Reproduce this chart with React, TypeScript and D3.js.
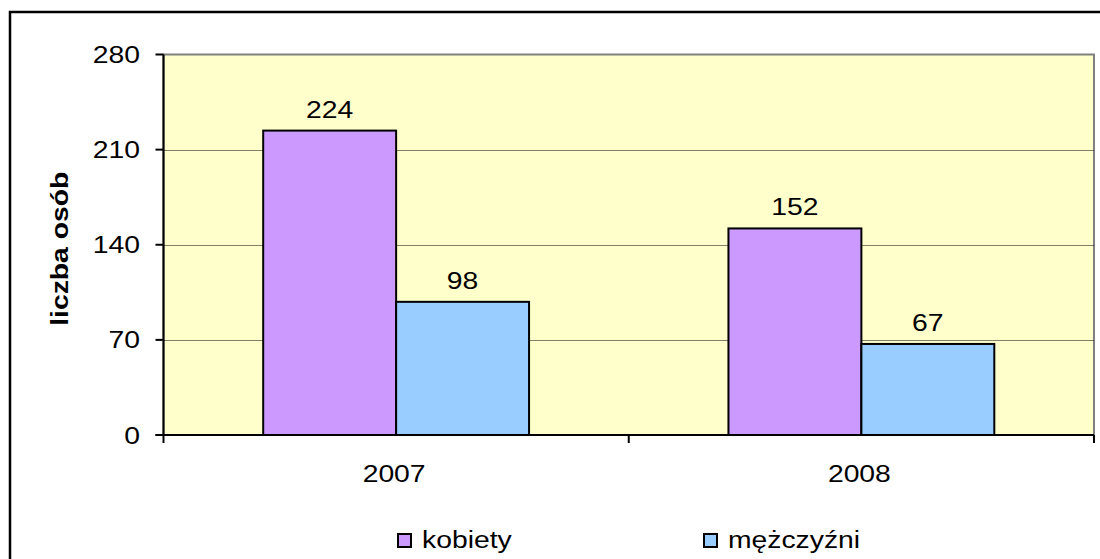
import * as d3 from 'd3';
import { useEffect, useRef } from 'react';

const years = ['2007', '2008'];
const seriesNames = ['kobiety', 'mężczyźni'];
const kobiety = [224, 152];
const mezczyzni = [98, 67];
const yTicks = [0, 70, 140, 210, 280];

const colors = ['#CC99FF', '#99CCFF'];
const FONT = '"Liberation Sans", Arial, sans-serif';
const STRETCH = 1.18; // text in the source is a bit wider than normal

export default function App() {
    const chartRef = useRef<SVGSVGElement | null>(null);

    useEffect(() => {
        if (!chartRef.current) return;
        d3.select(chartRef.current).selectAll('*').remove();

        const svg = d3.select(chartRef.current);
        const width = 1100;
        const height = 559;
        const plot = { left: 163.5, right: 1094, top: 54.5, bottom: 435 };

        const values = [kobiety, mezczyzni];

        const x0 = d3.scaleBand().domain(years).range([plot.left, plot.right]).padding(0);
        const x1 = d3
            .scaleBand()
            .domain(seriesNames)
            .range([0, x0.bandwidth()])
            .paddingInner(0)
            .paddingOuter(0.75); // excel gap width 150%

        const y = d3.scaleLinear().domain([0, 280]).range([plot.bottom, plot.top]);

        const addText = (
            g: d3.Selection<SVGGElement, unknown, null, undefined>,
            txt: string,
            tx: number,
            ty: number,
            anchor: string,
            opts: { rotate?: number; bold?: boolean } = {},
        ) =>
            g
                .append('text')
                .attr(
                    'transform',
                    `translate(${tx},${ty})${opts.rotate ? ` rotate(${opts.rotate})` : ''} scale(${STRETCH},1)`,
                )
                .attr('text-anchor', anchor)
                .attr('font-family', FONT)
                .attr('font-size', 24)
                .attr('font-weight', opts.bold ? 'bold' : 'normal')
                .attr('fill', '#000')
                .text(txt);

        svg.attr('width', width).attr('height', height);

        // outer chart border (runs off the right/bottom of the picture)
        svg.append('rect')
            .attr('x', 10)
            .attr('y', 12)
            .attr('width', 1110)
            .attr('height', 570)
            .attr('fill', '#fff')
            .attr('stroke', '#000')
            .attr('stroke-width', 2.5);

        // plot area
        svg.append('rect')
            .attr('x', plot.left)
            .attr('y', plot.top)
            .attr('width', plot.right - plot.left)
            .attr('height', plot.bottom - plot.top)
            .attr('fill', '#FFFFCC')
            .attr('stroke', '#808080')
            .attr('stroke-width', 2);

        // gridlines (snapped to the pixel grid so the dots stay dark)
        svg.append('g')
            .selectAll('line')
            .data(yTicks.filter((t) => t > 0 && t < 280))
            .join('line')
            .attr('x1', plot.left)
            .attr('x2', plot.right)
            .attr('y1', (d) => Math.round(y(d)) + 0.5)
            .attr('y2', (d) => Math.round(y(d)) + 0.5)
            .attr('stroke', '#000')
            .attr('stroke-width', 1)
            .attr('stroke-dasharray', '1,1');

        // bars
        const bars = svg.append('g');
        seriesNames.forEach((s, si) => {
            bars.append('g')
                .selectAll('rect')
                .data(years.map((yr, i) => ({ yr, v: values[si][i] })))
                .join('rect')
                .attr('x', (d) => x0(d.yr)! + x1(s)!)
                .attr('y', (d) => y(d.v))
                .attr('width', x1.bandwidth())
                .attr('height', (d) => y(0) - y(d.v))
                .attr('fill', colors[si])
                .attr('stroke', '#000')
                .attr('stroke-width', 2);
        });

        // value labels
        const labels = svg.append('g');
        seriesNames.forEach((s, si) => {
            years.forEach((yr, i) => {
                const v = values[si][i];
                addText(labels, String(v), x0(yr)! + x1(s)! + x1.bandwidth() / 2, y(v) - 13, 'middle');
            });
        });

        // y axis
        const yAxis = svg.append('g');
        yAxis.append('line')
            .attr('x1', plot.left)
            .attr('x2', plot.left)
            .attr('y1', plot.top)
            .attr('y2', plot.bottom)
            .attr('stroke', '#000')
            .attr('stroke-width', 2);
        yTicks.forEach((t) => {
            yAxis.append('line')
                .attr('x1', plot.left - 8)
                .attr('x2', plot.left)
                .attr('y1', y(t))
                .attr('y2', y(t))
                .attr('stroke', '#000')
                .attr('stroke-width', 2);
            addText(yAxis, String(t), 140, y(t) + 8.5, 'end');
        });

        // x axis
        const xAxis = svg.append('g');
        xAxis.append('line')
            .attr('x1', plot.left - 8)
            .attr('x2', plot.right)
            .attr('y1', plot.bottom)
            .attr('y2', plot.bottom)
            .attr('stroke', '#000')
            .attr('stroke-width', 2);
        const bounds = [...years.map((yr) => x0(yr)!), plot.right];
        bounds.forEach((bx) => {
            xAxis.append('line')
                .attr('x1', bx)
                .attr('x2', bx)
                .attr('y1', plot.bottom)
                .attr('y2', plot.bottom + 8)
                .attr('stroke', '#000')
                .attr('stroke-width', 2);
        });
        years.forEach((yr) => {
            addText(xAxis, yr, x0(yr)! + x0.bandwidth() / 2 - 2, 482, 'middle');
        });

        // axis title
        addText(svg as any, 'liczba osób', 68, (plot.top + plot.bottom) / 2 + 4, 'middle', {
            rotate: -90,
            bold: true,
        });

        // legend
        const legend = svg.append('g');
        const legendX = [397, 703];
        seriesNames.forEach((s, si) => {
            legend.append('rect')
                .attr('x', legendX[si] + 1)
                .attr('y', 534)
                .attr('width', 13)
                .attr('height', 13)
                .attr('fill', colors[si])
                .attr('stroke', '#000')
                .attr('stroke-width', 2);
            addText(legend, s, legendX[si] + 25, 548, 'start');
        });
    }, []);

    return <svg ref={chartRef} style={{ position: 'absolute', left: 0, top: 0 }} />;
}
